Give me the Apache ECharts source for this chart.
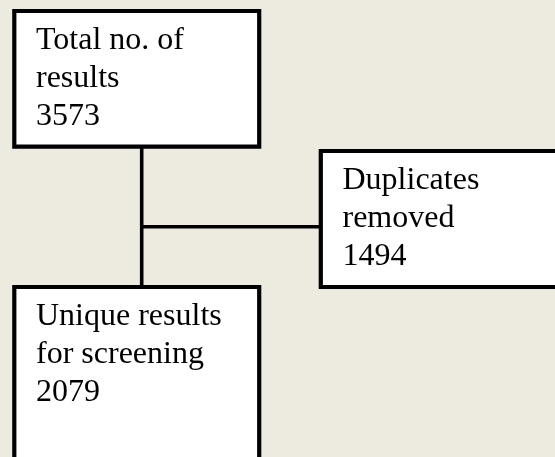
<!DOCTYPE html>
<html>
<head>
<meta charset="utf-8">
<script src="https://cdn.jsdelivr.net/npm/echarts@6/dist/echarts.min.js"></script>
<style>
html,body{margin:0;padding:0;background:#EDEAE0;}
#c{width:555px;height:457px;}
</style>
</head>
<body>
<div id="c"></div>
<script>
// Flowchart content
var boxLabels = ['Total no. of\nresults', 'Duplicates\nremoved', 'Unique results\nfor screening'];
var boxCounts = [3573, 1494, 2079];

// Layout (axis units = pixels of the canvas)
var boxLayout = [
  [14.3, 11, 259.2, 146.7],
  [320.8, 151, 600, 287],
  [14.3, 287, 259.2, 480]
];
var connectors = [
  [[141.7, 146.7], [141.7, 287]],
  [[141.7, 226.7], [320.8, 226.7]]
];

var chart = echarts.init(document.getElementById('c'), null, {renderer: 'canvas'});

var boxData = boxLabels.map(function (l, i) {
  return [boxLayout[i][0], boxLayout[i][1], boxLayout[i][2], boxLayout[i][3], i];
});
var lineData = connectors.map(function (c) {
  return [c[0][0], c[0][1], c[1][0], c[1][1]];
});

chart.setOption({
  backgroundColor: '#EDEAE0',
  animation: false,
  grid: {left: 0, right: 0, top: 0, bottom: 0},
  xAxis: {type: 'value', min: 0, max: 555, show: false},
  yAxis: {type: 'value', min: 0, max: 457, inverse: true, show: false},
  series: [
    {
      type: 'custom',
      coordinateSystem: 'cartesian2d',
      data: lineData,
      clip: false,
      z: 1,
      renderItem: function (params, api) {
        var p1 = api.coord([api.value(0), api.value(1)]);
        var p2 = api.coord([api.value(2), api.value(3)]);
        return {
          type: 'line',
          shape: {x1: p1[0], y1: p1[1], x2: p2[0], y2: p2[1]},
          style: {stroke: '#000', lineWidth: 3.6}
        };
      }
    },
    {
      type: 'custom',
      coordinateSystem: 'cartesian2d',
      data: boxData,
      clip: false,
      z: 2,
      renderItem: function (params, api) {
        var p1 = api.coord([api.value(0), api.value(1)]);
        var p2 = api.coord([api.value(2), api.value(3)]);
        var i = api.value(4);
        return {
          type: 'group',
          children: [
            {
              type: 'rect',
              shape: {x: p1[0], y: p1[1], width: p2[0] - p1[0], height: p2[1] - p1[1]},
              style: {fill: '#fff', stroke: '#000', lineWidth: 4.2}
            },
            {
              type: 'text',
              x: p1[0] + 21.7,
              y: p1[1] + 11,
              style: {
                text: boxLabels[i] + '\n' + boxCounts[i],
                fill: '#000',
                font: '32px "Liberation Serif", "Times New Roman", serif',
                lineHeight: 37.7,
                align: 'left',
                verticalAlign: 'top'
              }
            }
          ]
        };
      }
    }
  ]
});
</script>
</body>
</html>
